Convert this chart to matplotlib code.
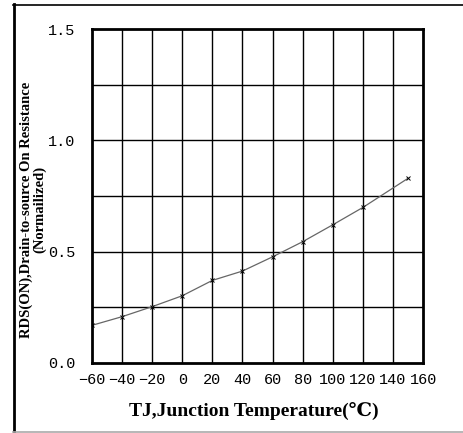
import matplotlib

matplotlib.use("Agg")
import matplotlib.pyplot as plt
from matplotlib.lines import Line2D

# junction temperature (C) and normalized RDS(on)
temp = [-60, -40, -20, 0, 20, 40, 60, 80, 100, 120, 150]
rds = [0.169, 0.208, 0.253, 0.302, 0.371, 0.413, 0.477, 0.545, 0.621, 0.699, 0.830]

xticks = [-60, -40, -20, 0, 20, 40, 60, 80, 100, 120, 140, 160]
yticks = [0.0, 0.5, 1.0, 1.5]
ygrid = [0.25, 0.5, 0.75, 1.0, 1.25]

fig = plt.figure(figsize=(4.64, 4.33), dpi=100)
ax = fig.add_axes([0.198, 0.1617, 0.714, 0.771])

ax.plot(temp, rds, color="#666666", linewidth=0.9, marker="x", markersize=3.5,
        markeredgecolor="black", markeredgewidth=0.7)

ax.set_xlim(-60, 160)
ax.set_ylim(0, 1.5)
ax.set_xticks(xticks)
ax.set_yticks(yticks)
ax.set_yticklabels([f"{v:.1f}" for v in yticks])
for x in xticks[1:-1]:
    ax.axvline(x, color="black", linewidth=1.0, zorder=0)
for y in ygrid:
    ax.axhline(y, color="black", linewidth=1.0, zorder=0)

for s in ax.spines.values():
    s.set_linewidth(2.0)
    s.set_color("black")

ax.tick_params(length=0, labelsize=11)
for lab in ax.get_xticklabels() + ax.get_yticklabels():
    lab.set_family("Liberation Mono")
ax.tick_params(axis="x", pad=7)
ax.tick_params(axis="y", pad=12)

ax.set_xlabel("TJ,Junction Temperature(\u2103)", family=["Liberation Serif", "DejaVu Serif"],
              fontweight="bold", fontsize=14)
ax.xaxis.set_label_coords(0.489, -0.118)
ax.set_ylabel("RDS(ON),Drain-to-source On Resistance\n(Normailized)",
              family=["Liberation Serif", "DejaVu Serif"], fontweight="bold",
              fontsize=10.5, linespacing=0.95)
ax.yaxis.set_label_coords(-0.138, 0.46)

# outer frame of the picture
W, H = 464, 433
fig.add_artist(Line2D([13 / W, 1], [1 - 5 / H, 1 - 5 / H], color="black", linewidth=1.2))
fig.add_artist(Line2D([14 / W, 14 / W], [1 - 4 / H, 1 - 432 / H], color="black", linewidth=2.0))
fig.add_artist(Line2D([13 / W, 1], [1 - 432 / H, 1 - 432 / H], color="#aaaaaa", linewidth=1.2))

fig.savefig("out.png", dpi=100)
